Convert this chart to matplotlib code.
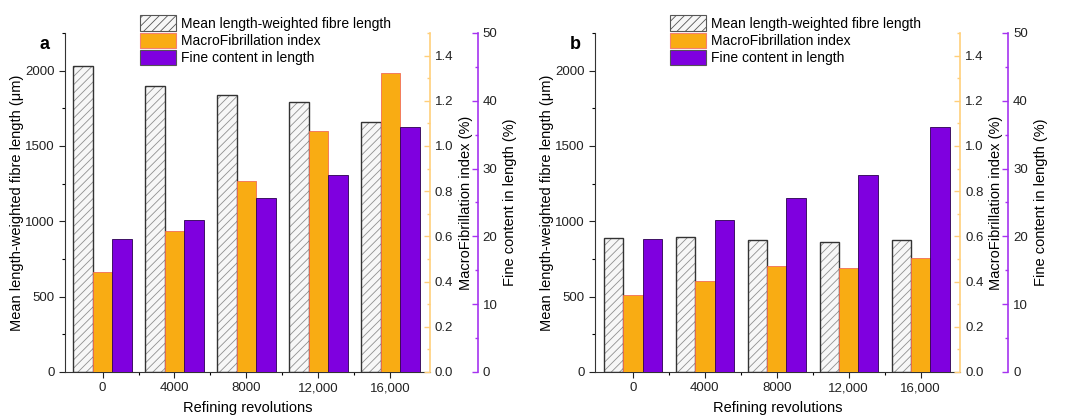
import matplotlib
matplotlib.use('Agg')
import matplotlib.pyplot as plt
from matplotlib.patches import Patch
from matplotlib.ticker import MultipleLocator
import numpy as np

plt.rcParams['font.family'] = ['Liberation Sans', 'DejaVu Sans']
plt.rcParams['hatch.linewidth'] = 0.6

revolutions = ['0', '4000', '8000', '12,000', '16,000']

# panel a
length_a = [2032, 1897, 1840, 1793, 1659]
macro_a = [0.442, 0.623, 0.846, 1.066, 1.321]
fine_a = [19.6, 22.4, 25.6, 29.1, 36.2]

# panel b
length_b = [886, 897, 877, 862, 879]
macro_b = [0.339, 0.401, 0.467, 0.459, 0.503]
fine_b = [19.6, 22.4, 25.6, 29.1, 36.2]

ORANGE = '#F9AC13'
PURPLE = '#7F00DF'
ORANGE_AX = '#FFCF7A'
PURPLE_AX = '#A633F0'

fig = plt.figure(figsize=(10.67, 4.17), dpi=100)

def panel(left, length, macro, fine, letter):
    ax = fig.add_axes([left, 0.108, 0.342, 0.813])
    ax2 = ax.twinx()
    ax3 = ax.twinx()
    x = np.arange(len(revolutions))
    w = 0.27

    # hatched length bars
    ax.bar(x - w, length, w, color='#f7f7f7', edgecolor='#909090', hatch='////', linewidth=0)
    ax.bar(x - w, length, w, fill=False, edgecolor='#333333', linewidth=1.0)
    ax2.bar(x, macro, w, color=ORANGE, edgecolor='#F26D55', linewidth=0.6)
    ax3.bar(x + w, fine, w, color=PURPLE, edgecolor='#2a0050', linewidth=0.6)

    ax.set_xlim(-0.52, 4.55)
    ax.set_ylim(0, 2250)
    ax2.set_ylim(0, 1.5)
    ax3.set_ylim(0, 50)

    ax.set_xticks(x)
    ax.set_xticklabels(revolutions, fontsize=9.5)
    ax.set_xticks(x[:-1] + 0.5, minor=True)
    ax.yaxis.set_major_locator(MultipleLocator(500))
    ax.yaxis.set_minor_locator(MultipleLocator(250))
    ax.tick_params(axis='both', which='major', length=4, width=0.8, labelsize=9.5, colors='#222222')
    ax.tick_params(axis='both', which='minor', length=2.5, width=0.8)

    for s in ['top', 'right']:
        ax.spines[s].set_visible(False)
    for s in ['left', 'bottom']:
        ax.spines[s].set_color('#333333')
    for a in (ax2, ax3):
        for s in ['top', 'left', 'bottom']:
            a.spines[s].set_visible(False)

    ax2.spines['right'].set_color(ORANGE_AX)
    ax2.spines['right'].set_linewidth(1.2)
    ax2.yaxis.set_major_locator(MultipleLocator(0.2))
    ax2.yaxis.set_minor_locator(MultipleLocator(0.1))
    ax2.tick_params(axis='y', which='both', direction='in', color=ORANGE_AX, labelcolor='#222222',
                    labelsize=9.5, width=1.0)
    ax2.tick_params(axis='y', which='major', length=4)
    ax2.tick_params(axis='y', which='minor', length=2.5)
    ax2.yaxis.set_major_formatter(matplotlib.ticker.FormatStrFormatter('%.1f'))

    ax3.spines['right'].set_position(('outward', 34.5))
    ax3.spines['right'].set_color(PURPLE_AX)
    ax3.spines['right'].set_linewidth(1.2)
    ax3.yaxis.set_major_locator(MultipleLocator(10))
    ax3.yaxis.set_minor_locator(MultipleLocator(5))
    ax3.tick_params(axis='y', which='both', direction='in', color=PURPLE_AX, labelcolor='#222222',
                    labelsize=9.5, width=1.0)
    ax3.tick_params(axis='y', which='major', length=4)
    ax3.tick_params(axis='y', which='minor', length=2.5)

    ax.set_xlabel('Refining revolutions', fontsize=10.5, labelpad=5)
    ax.set_ylabel('Mean length-weighted fibre length (μm)', fontsize=10.5, labelpad=1)
    ax2.set_ylabel('MacroFibrillation index (%)', fontsize=10.5, labelpad=4)
    ax3.set_ylabel('Fine content in length (%)', fontsize=10.5, labelpad=4)

    ax.text(-0.07, 0.99, letter, transform=ax.transAxes, fontsize=13, fontweight='bold', va='top')

    handles = [
        Patch(facecolor='#f7f7f7', edgecolor='#555555', hatch='////', linewidth=0.8),
        Patch(facecolor=ORANGE, edgecolor='#F48070', linewidth=0.8),
        Patch(facecolor=PURPLE, edgecolor='#555555', linewidth=0.8),
    ]
    labels = ['Mean length-weighted fibre length', 'MacroFibrillation index', 'Fine content in length']
    ax3.legend(handles, labels, loc='upper left', bbox_to_anchor=(0.205, 1.052), frameon=False,
               fontsize=10, handlelength=2.6, handleheight=1.35, labelspacing=0.12,
               handletextpad=0.35, borderaxespad=0, borderpad=0)
    return ax

panel(0.061, length_a, macro_a, fine_a, 'a')
panel(0.558, length_b, macro_b, fine_b, 'b')

fig.savefig('out.png', dpi=100)
